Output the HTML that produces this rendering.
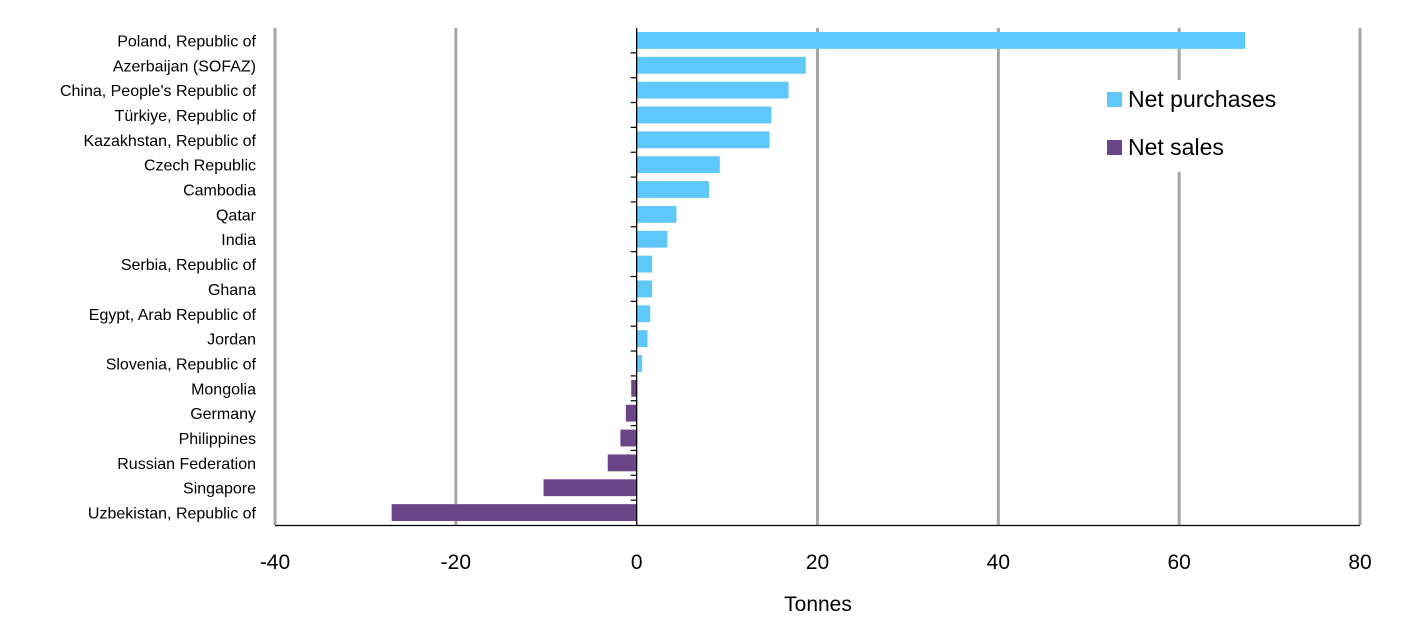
<!DOCTYPE html>
<html><head><meta charset="utf-8">
<style>
html,body{margin:0;padding:0;background:#fff;}
svg{display:block;font-family:"Liberation Sans","DejaVu Sans",sans-serif;}
</style></head>
<body>
<svg id="chart" width="1407" height="630" viewBox="0 0 1407 630"></svg>
<script>
const categories=["Poland, Republic of","Azerbaijan (SOFAZ)","China, People's Republic of","Türkiye, Republic of","Kazakhstan, Republic of","Czech Republic","Cambodia","Qatar","India","Serbia, Republic of","Ghana","Egypt, Arab Republic of","Jordan","Slovenia, Republic of","Mongolia","Germany","Philippines","Russian Federation","Singapore","Uzbekistan, Republic of"];
const values=[67.3,18.7,16.8,14.9,14.7,9.2,8.0,4.4,3.4,1.7,1.7,1.5,1.2,0.6,-0.6,-1.2,-1.8,-3.2,-10.3,-27.1];
const tickLabels=[-40,-20,0,20,40,60,80];
const xMin=-40,xMax=80,pL=275,pR=1360,pT=28,pB=525;
const NS="http://www.w3.org/2000/svg";
const svgEl=document.getElementById('chart');
const xs=v=>pL+(v-xMin)/(xMax-xMin)*(pR-pL);
const rowH=(pB-pT)/categories.length;
const ys=i=>pT+i*rowH;
function mk(t,a,p){const e=document.createElementNS(NS,t);for(const k in a)e.setAttribute(k,a[k]);(p||svgEl).appendChild(e);return e;}
tickLabels.forEach(t=>{
  if(t!==0){const g=mk('line',{x1:xs(t),x2:xs(t),y1:pT,y2:pB,stroke:'#a6a6a6','stroke-width':3});
  
  }
  const l=mk('text',{x:xs(t),y:569,'text-anchor':'middle','font-size':21,fill:'#000'});
  l.textContent=t;
  
  
});
categories.forEach((c,i)=>{
  const v=values[i];
  const r=mk('rect',{x:Math.min(xs(0),xs(v)),y:ys(i)+4,width:Math.abs(xs(v)-xs(0)),height:rowH-8,fill:v>=0?'#5ec8fb':'#6c4588'});
  
  
  const t=mk('text',{x:256,y:ys(i)+rowH/2+6,'text-anchor':'end','font-size':16,fill:'#000'});
  t.textContent=c;
  
  
  if(i>0){const tk=mk('line',{x1:xs(0)-6,x2:xs(0),y1:ys(i),y2:ys(i),stroke:'#000','stroke-width':1.2});
  
  }
});
const za=mk('line',{x1:xs(0),x2:xs(0),y1:pT,y2:pB,stroke:'#000','stroke-width':1.3});


const xa=mk('line',{x1:pL,x2:pR,y1:pB+0.5,y2:pB+0.5,stroke:'#000','stroke-width':1.3});


const xt=mk('text',{x:818,y:611,'text-anchor':'middle','font-size':21,fill:'#000'});
xt.textContent='Tonnes';


const lg=mk('g',{});


mk('rect',{x:1098,y:80,width:200,height:92,fill:'#fff'},lg);
[['Net purchases','#5ec8fb',99],['Net sales','#6c4588',147]].forEach(([n,c,cy])=>{
  const s=mk('rect',{x:1107,y:cy-7,width:15,height:15,fill:c},lg);
  
  
  const t=mk('text',{x:1128,y:cy+8,'font-size':23,fill:'#000'},lg);
  t.textContent=n;
  
  
});
</script>
</body></html>
